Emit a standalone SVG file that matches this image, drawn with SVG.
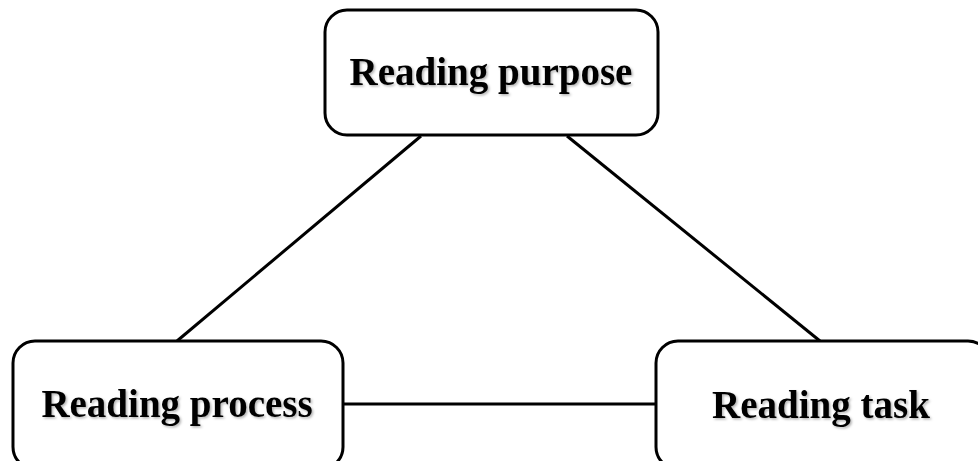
<svg xmlns="http://www.w3.org/2000/svg" width="978" height="461" viewBox="0 0 978 461">
  <defs>
    <!-- soft grey drop shadow behind the labels -->
    <filter id="textShadow" x="-5%" y="-20%" width="110%" height="140%">
      <feDropShadow dx="1.5" dy="1.5" stdDeviation="1" flood-color="#000000" flood-opacity="0.3"/>
    </filter>
  </defs>
  <style>
    .box { fill: #ffffff; stroke: #000000; stroke-width: 3; }
    .link { stroke: #000000; stroke-width: 3; fill: none; }
    .label { font-family: "Liberation Serif", "Times New Roman", serif; font-weight: bold; font-size: 39px; fill: #000000; text-anchor: middle; filter: url(#textShadow); }
  </style>
  <rect width="978" height="461" fill="#ffffff"/>
  <g id="connectors">
    <line class="link" x1="421" y1="136" x2="177" y2="341"/>
    <line class="link" x1="567" y1="136" x2="820" y2="341"/>
    <line class="link" x1="343" y1="404" x2="656" y2="404"/>
  </g>
  <g id="reading-purpose">
    <rect class="box" x="325" y="10" width="333" height="125" rx="22" ry="22"/>
    <text class="label" x="491" y="85">Reading purpose</text>
  </g>
  <g id="reading-process">
    <rect class="box" x="13" y="341" width="330" height="128" rx="22" ry="22"/>
    <text class="label" x="177" y="417">Reading process</text>
  </g>
  <g id="reading-task">
    <rect class="box" x="656" y="341" width="334" height="128" rx="22" ry="22"/>
    <text class="label" x="821" y="418">Reading task</text>
  </g>
</svg>
